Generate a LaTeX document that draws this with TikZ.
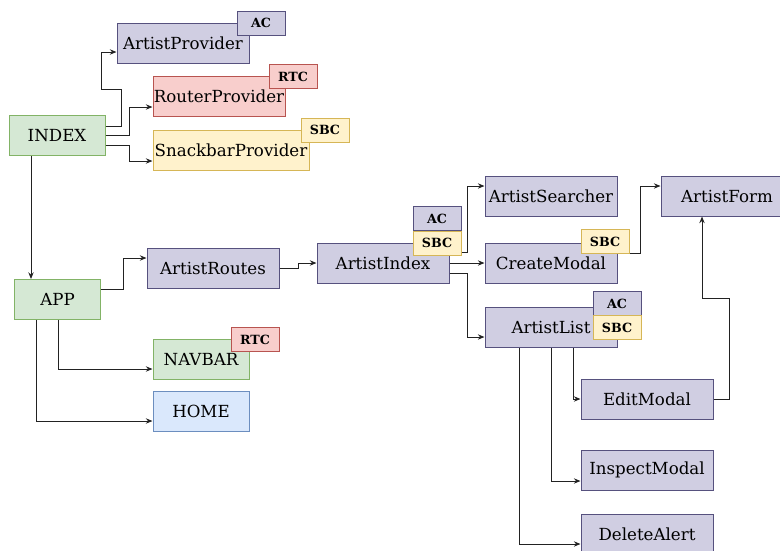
\documentclass[tikz,border=0pt]{standalone}
\usepackage{fontspec}
\setmainfont{DejaVu Serif}
\usetikzlibrary{arrows.meta}
\definecolor{pfill}{HTML}{D0CEE2}\definecolor{pline}{HTML}{56517E}
\definecolor{rfill}{HTML}{F8CECC}\definecolor{rline}{HTML}{B85450}
\definecolor{yfill}{HTML}{FFF2CC}\definecolor{yline}{HTML}{D6B656}
\definecolor{gfill}{HTML}{D5E8D4}\definecolor{gline}{HTML}{82B366}
\definecolor{bfill}{HTML}{DAE8FC}\definecolor{bline}{HTML}{6C8EBF}
\definecolor{wire}{HTML}{222222}
\tikzset{
  comp/.style={draw, line width=0.75pt, inner sep=0pt, minimum height=30pt,
    minimum width=99pt, font=\fontsize{12.5}{14}\selectfont},
  purple/.style={comp, fill=pfill, draw=pline},
  red/.style={comp, fill=rfill, draw=rline},
  yellow/.style={comp, fill=yfill, draw=yline},
  green/.style={comp, fill=gfill, draw=gline},
  blue/.style={comp, fill=bfill, draw=bline},
  badge/.style={draw, line width=0.75pt, inner sep=0pt, minimum width=36pt,
    minimum height=18pt, font=\fontsize{9.5}{11}\selectfont\bfseries},
  acb/.style={badge, fill=pfill, draw=pline},
  rtcb/.style={badge, fill=rfill, draw=rline},
  sbcb/.style={badge, fill=yfill, draw=yline},
  conn/.style={draw=wire, line width=0.75pt, -{Stealth[length=5pt,width=4pt]}}
}
\begin{document}
\begin{tikzpicture}[x=0.75pt, y=-0.75pt]
\useasboundingbox (0,0) rectangle (780,550);
\begin{scope}
\clip (0,0) rectangle (780,550);

% providers around the entry point
\node[purple] (ArtistProvider) at (183,43) {ArtistProvider};
\node[acb] (acProv) at (261,23) {AC};
\node[red] (RouterProvider) at (219,96.5) {RouterProvider};
\node[rtcb] (rtcProv) at (293,76.5) {RTC};
\node[yellow, minimum width=117pt] (SnackbarProvider) at (231,150.5) {SnackbarProvider};
\node[sbcb] (sbcProv) at (325,130) {SBC};
\node[green, minimum width=72pt] (INDEX) at (57,135.5) {INDEX};

% application shell
\node[green, minimum width=64pt] (APP) at (57.5,299.5) {APP};
\node[purple] (ArtistRoutes) at (213,268) {ArtistRoutes};
\node[green, minimum width=72pt] (NAVBAR) at (201,359.5) {NAVBAR};
\node[rtcb] (rtcNav) at (255,339.5) {RTC};
\node[blue, minimum width=72pt] (HOME) at (201,411) {HOME};

% artist pages
\node[purple] (ArtistIndex) at (383,263) {ArtistIndex};
\node[acb] (acIndex) at (437,218.5) {AC};
\node[sbcb] (sbcIndex) at (437,243) {SBC};
\node[purple] (ArtistSearcher) at (551,196) {ArtistSearcher};
\node[purple] (CreateModal) at (551,263) {CreateModal};
\node[sbcb] (sbcCreate) at (605,241.5) {SBC};
\node[purple] (ArtistForm) at (727,196) {ArtistForm};
\node[purple] (ArtistList) at (551,327.5) {ArtistList};
\node[acb] (acList) at (617,303.5) {AC};
\node[sbcb] (sbcList) at (617,327.5) {SBC};
\node[purple] (EditModal) at (647,399) {EditModal};
\node[purple] (InspectModal) at (647,470) {InspectModal};
\node[purple] (DeleteAlert) at (647,534) {DeleteAlert};

% connectors
\draw[conn] (INDEX.east |- 0,126) -| (121,89) -| (101,52) -- (ArtistProvider.west |- 0,52);
\draw[conn] (INDEX.east |- 0,135) -| (129,107) -- (RouterProvider.west |- 0,107);
\draw[conn] (INDEX.east |- 0,145) -| (129,161) -- (SnackbarProvider.west |- 0,161);
\draw[conn] (INDEX.south -| 31,0) -- (APP.north -| 31,0);
\draw[conn] (APP.east |- 0,289) -| (123,258) -- (ArtistRoutes.west |- 0,258);
\draw[conn] (APP.south -| 58,0) |- (NAVBAR.west |- 0,369);
\draw[conn] (APP.south -| 36,0) |- (HOME.west |- 0,421);
\draw[conn] (ArtistRoutes.east) -| (298,263) -- (ArtistIndex.west);
\draw[conn] (sbcIndex.east |- 0,252) -| (467,186) -- (ArtistSearcher.west |- 0,186);
\draw[conn] (ArtistIndex.east) -- (CreateModal.west);
\draw[conn] (ArtistIndex.east |- 0,273) -| (467,337) -- (ArtistList.west |- 0,337);
\draw[conn] (sbcCreate.east |- 0,253) -| (640,186) -- (ArtistForm.west |- 0,186);
\draw[conn] (EditModal.east) -| (729,298) -| (ArtistForm.south -| 702,0);
\draw[conn] (ArtistList.south -| 573,0) |- (EditModal.west);
\draw[conn] (ArtistList.south -| 551,0) |- (InspectModal.west |- 0,481);
\draw[conn] (ArtistList.south -| 519,0) |- (DeleteAlert.west |- 0,544);
\end{scope}
\end{tikzpicture}
\end{document}
